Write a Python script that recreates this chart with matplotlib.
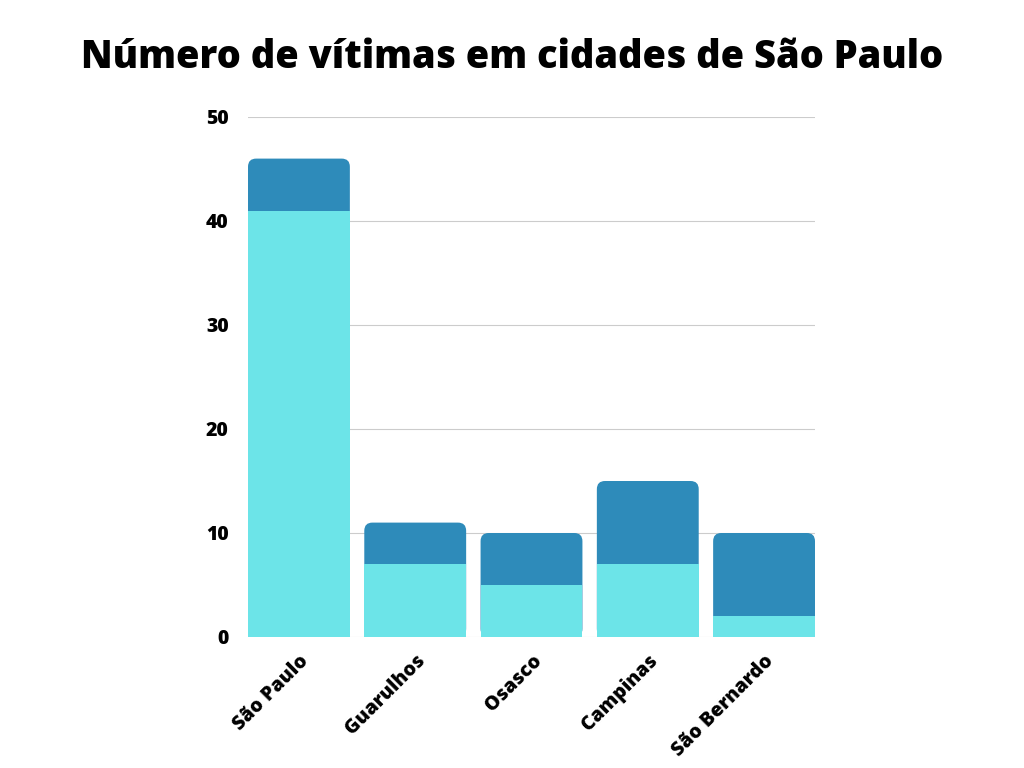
import matplotlib.pyplot as plt
from matplotlib.patches import FancyBboxPatch
import numpy as np

cidades = ['São Paulo', 'Guarulhos', 'Osasco', 'Campinas', 'São Bernardo']
base = [41, 7, 5, 7, 2]
topo = [5, 4, 5, 8, 8]
yticks = [0, 10, 20, 30, 40, 50]

plt.rcParams['font.family'] = ['Open Sans', 'DejaVu Sans']

fig = plt.figure(figsize=(10.24, 7.68), dpi=100)
ax = fig.add_axes([248 / 1024, 1 - 637 / 768, (815 - 248) / 1024, (637 - 117) / 768])

x = np.arange(len(cidades))
w = 0.876
total = [b + t for b, t in zip(base, topo)]

ax.set_xlim(-w / 2, len(cidades) - 1 + w / 2)
ax.set_ylim(0, 50)

# totals drawn as rounded boxes, base segment painted over them
bars = ax.bar(x, total, width=w, color='#2e8bba', zorder=3)
px_x = ax.transData.transform((1, 0))[0] - ax.transData.transform((0, 0))[0]
px_y = ax.transData.transform((0, 1))[1] - ax.transData.transform((0, 0))[1]
for p in list(bars.patches):
    bx, by, bw, bh = p.get_x(), p.get_y(), p.get_width(), p.get_height()
    p.remove()
    ax.add_patch(FancyBboxPatch((bx, by), bw, bh,
                                boxstyle='round,pad=0,rounding_size=0.07',
                                mutation_aspect=px_x / px_y,
                                facecolor='#2e8bba', edgecolor='none', zorder=3))
ax.bar(x, base, width=w, color='#6ce4e8', zorder=4)

ax.set_yticks(yticks)
ax.set_yticklabels([str(t) for t in yticks], fontsize=14, fontweight='heavy')
ax.set_xticks(x)
ax.set_xticklabels(cidades, rotation=45, ha='right', rotation_mode='anchor',
                   fontsize=14, fontweight='heavy')
ax.tick_params(length=0, pad=14)
ax.tick_params(axis='x', pad=10)
ax.grid(axis='y', color='#cccccc', linewidth=0.8, zorder=0)
for s in ax.spines.values():
    s.set_visible(False)

fig.suptitle('Número de vítimas em cidades de São Paulo', fontsize=27.4,
             fontweight='heavy', y=0.95)

fig.savefig('out.png', dpi=100)
